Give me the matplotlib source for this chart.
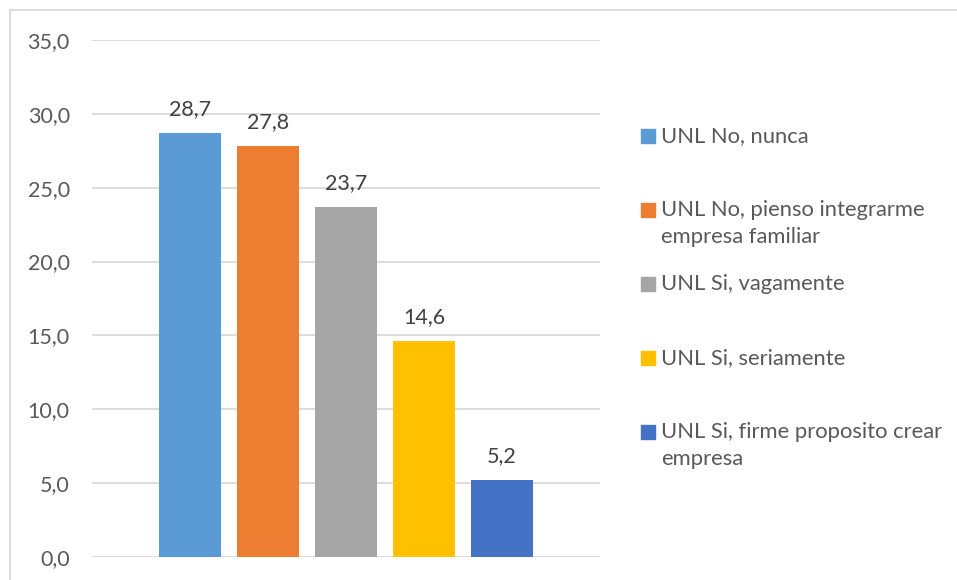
import matplotlib
matplotlib.use("Agg")
import matplotlib.pyplot as plt
from matplotlib.patches import Rectangle

# data
series_labels = ["UNL No, nunca",
                 "UNL No, pienso integrarme\nempresa familiar",
                 "UNL Si, vagamente",
                 "UNL Si, seriamente",
                 "UNL Si, firme proposito crear\nempresa"]
values = [28.7, 27.8, 23.7, 14.6, 5.2]
colors = ["#5B9BD5", "#ED7D31", "#A5A5A5", "#FFC000", "#4472C4"]
yticks = [0, 5, 10, 15, 20, 25, 30, 35]

W, H = 957, 580
txt = "#595959"
grid = "#D9D9D9"
plt.rcParams['font.family'] = ['Lato', 'DejaVu Sans']

fig = plt.figure(figsize=(W / 100, H / 100), dpi=100)
# plot area in pixels: x 92..600, y 40..557
ax = fig.add_axes([92 / W, 1 - 557 / H, (600 - 92) / W, (557 - 40) / H])

x = list(range(len(values)))
bars = ax.bar(x, values, width=62 / 78, color=colors, zorder=3)
ax.bar_label(bars, labels=[f"{v:.1f}".replace(".", ",") for v in values],
             padding=10, fontsize=15.5, color="#404040")

half = 508 / 78 / 2
ax.set_xlim(2 - half, 2 + half)
ax.set_ylim(0, 35)
ax.set_yticks(yticks)
ax.set_yticklabels([f"{t:.1f}".replace(".", ",") for t in yticks],
                   fontsize=15.5, color=txt)
ax.set_xticks([])
ax.tick_params(axis="y", length=0, pad=16)
ax.grid(axis="y", color=grid, linewidth=1.3, zorder=0)
for s in ax.spines.values():
    s.set_visible(False)

# legend, drawn by hand so the first lines sit at even steps
for i, (lab, c) in enumerate(zip(series_labels, colors)):
    yc = 136 + i * 74
    fig.patches.append(Rectangle((641 / W, 1 - (yc + 7) / H), 14 / W, 14 / H,
                                 transform=fig.transFigure, color=c))
    fig.text(661 / W, 1 - (yc - 10) / H, lab, fontsize=15.8, color=txt,
             va="top", ha="left", linespacing=1.45)

# chart border (only top and left show in the crop)
fig.patches.append(Rectangle((9.5 / W, -0.1), 1.2, 1.1 - 10 / H,
                             transform=fig.transFigure, fill=False,
                             edgecolor=grid, linewidth=1.3))

fig.savefig("out.png", dpi=100)
